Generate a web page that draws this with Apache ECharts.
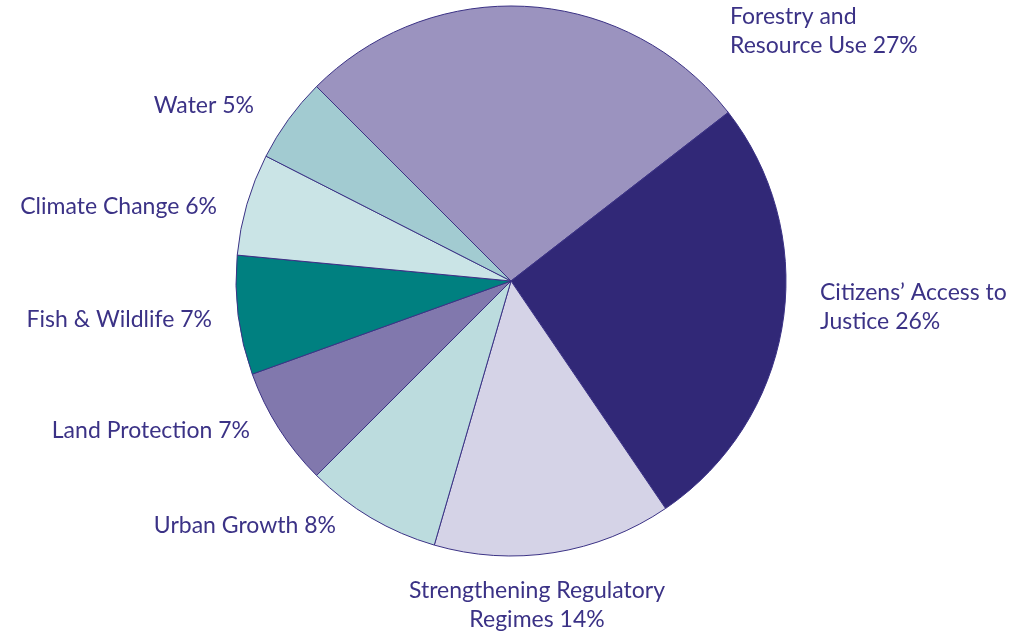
<!DOCTYPE html>
<html>
<head>
<meta charset="utf-8">
<script src="https://cdn.jsdelivr.net/npm/echarts@6/dist/echarts.min.js"></script>
<style>
  html, body { margin: 0; padding: 0; background: #fff; }
  #chart { width: 1019px; height: 636px; }
</style>
</head>
<body>
<div id="chart"></div>
<script>
var categories = [
  'Forestry and\nResource Use',
  'Citizens\u2019 Access to\nJustice',
  'Strengthening Regulatory\nRegimes',
  'Urban Growth',
  'Land Protection',
  'Fish & Wildlife',
  'Climate Change',
  'Water'
]
var shares = [27, 26, 14, 8, 7, 7, 6, 5]

var sliceColors = ['#9b93bf', '#312877', '#d5d3e7', '#bcdcde', '#8178ad', '#008080', '#cae4e6', '#a2cbd1']
// where each label sits (anchor x, middle y, alignment)
var labelSpots = [
  [730, 31, 'left'],
  [820, 307, 'left'],
  [537, 605, 'center'],
  [336, 526, 'right'],
  [250, 431, 'right'],
  [212, 320, 'right'],
  [217, 207, 'right'],
  [254, 106, 'right']
]

var data = []
for (var i = 0; i < categories.length; i++) {
  data.push({ name: categories[i], value: shares[i], itemStyle: { color: sliceColors[i] } })
}

var chart = echarts.init(document.getElementById('chart'))
chart.setOption({
  animation: false,
  series: [{
    type: 'pie',
    center: [511, 281],
    radius: 275,
    startAngle: 135,
    clockwise: true,
    data: data,
    itemStyle: { borderColor: '#3b3285', borderWidth: 1 },
    label: {
      show: true,
      position: 'outside',
      formatter: function(p) { return p.name + ' ' + p.value + '%' },
      color: '#3b3286',
      fontFamily: 'Lato',
      fontSize: 23,
      lineHeight: 29,
      overflow: 'none'
    },
    labelLine: { show: false },
    labelLayout: function(params) {
      var s = labelSpots[params.dataIndex]
      return { x: s[0], y: s[1], align: s[2], verticalAlign: 'middle' }
    }
  }]
})
</script>
</body>
</html>
